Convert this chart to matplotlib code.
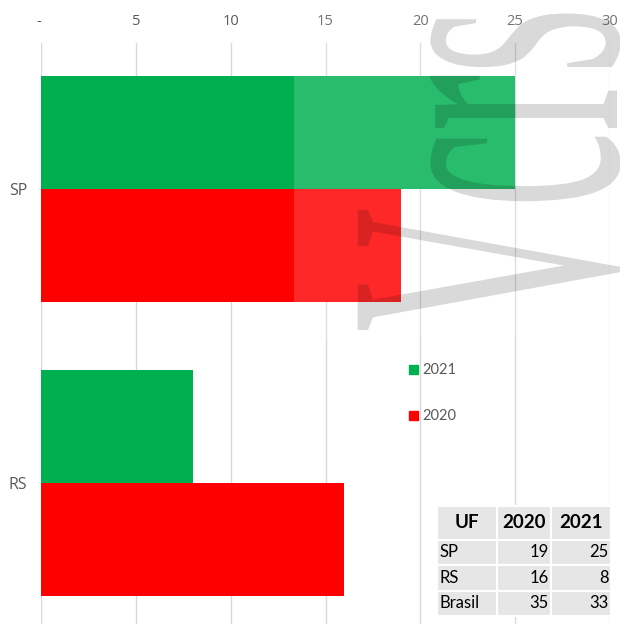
import numpy as np
import matplotlib
matplotlib.use("Agg")
import matplotlib.pyplot as plt
from matplotlib.patches import Patch, PathPatch, Rectangle
from matplotlib.textpath import TextPath
from matplotlib.font_manager import FontProperties
from matplotlib.transforms import Affine2D
from matplotlib.ticker import FuncFormatter

# dados do grafico
ufs = ['SP', 'RS']
vals_2021 = [25, 8]
vals_2020 = [19, 16]

# dados da tabela
tab_header = ['UF', '2020', '2021']
tab_uf = ['SP', 'RS', 'Brasil']
tab_2020 = [19, 16, 35]
tab_2021 = [25, 8, 33]

green = '#00B050'
red = '#FF0000'
gray_txt = '#595959'

W, H = 620, 624
fig = plt.figure(figsize=(W / 100, H / 100), dpi=100)

def px_box(x0, y0, x1, y1):
    # caixa em pixels (y para baixo) -> fracao da figura
    return [x0 / W, 1 - y1 / H, (x1 - x0) / W, (y1 - y0) / H]

ax = fig.add_axes(px_box(41, 43, 610, 624))

pos = np.arange(len(ufs))[::-1]
h = 0.384
ax.barh(pos + h / 2, vals_2021, height=h, color=green, label='2021', zorder=2)
ax.barh(pos - h / 2, vals_2020, height=h, color=red, label='2020', zorder=2)

ax.set_xlim(0, 30)
ax.set_ylim(-0.4796, 1.4966)
ax.set_xticks(np.arange(0, 31, 5))
ax.xaxis.set_major_formatter(FuncFormatter(lambda v, p: '- ' if v == 0 else f'{v:g}'))
ax.xaxis.tick_top()
ax.set_yticks(pos, ufs)
ax.tick_params(axis='x', length=0, pad=10, labelsize=10.5, labelcolor=gray_txt)
ax.tick_params(axis='y', length=0, pad=10, labelsize=11.5, labelcolor=gray_txt)
for lab in ax.get_xticklabels() + ax.get_yticklabels():
    lab.set_family('Open Sans')
ax.grid(axis='x', color='#D9D9D9', linewidth=1)
ax.set_axisbelow(True)
for s in ax.spines.values():
    s.set_visible(False)

# legenda
leg = fig.legend(handles=[Patch(color=green, label='2021'), Patch(color=red, label='2020')],
                 loc='upper left', bbox_to_anchor=(402 / W, 1 - 356 / H), frameon=False,
                 borderpad=0, handlelength=0.6, handleheight=0.6, handletextpad=0.3,
                 labelspacing=2.2, prop=FontProperties(family='Lato', size=10.5))
for t in leg.get_texts():
    t.set_color(gray_txt)

# tabela
tax = fig.add_axes(px_box(437, 506, 611, 616))
tax.axis('off')
cells = [[u, str(a), str(b)] for u, a, b in zip(tab_uf, tab_2020, tab_2021)]
tbl = tax.table(cellText=cells, colLabels=tab_header, bbox=[0, 0, 1, 1],
                colWidths=[60, 53, 60])
tbl.auto_set_font_size(False)
for (r, c), cell in tbl.get_celld().items():
    cell.set_facecolor('#E7E6E6')
    cell.set_edgecolor('white')
    cell.set_linewidth(1.5)
    cell.PAD = 0.04
    txt = cell.get_text()
    txt.set_family('Lato')
    if r == 0:
        cell.set_height(33)
        txt.set_fontsize(13.5)
        txt.set_fontweight('bold')
        txt.set_horizontalalignment('center')
    else:
        cell.set_height(25)
        txt.set_fontsize(12)
        txt.set_horizontalalignment('left' if c == 0 else 'right')

# marca d'agua
fig.add_artist(Rectangle((294 / W, 1 - 340 / H), (W - 294) / W, 340 / H,
                         transform=fig.transFigure, facecolor='white', alpha=0.16,
                         edgecolor='none', zorder=9))
tp = TextPath((0, 0), 'Vcrs', size=1, prop=FontProperties(family='Liberation Serif'))
tr = (Affine2D().scale(172, 396).rotate_deg(90).translate(617, H - 332)
      .scale(1 / W, 1 / H))
fig.add_artist(PathPatch(tr.transform_path(tp), transform=fig.transFigure,
                         facecolor='black', alpha=0.15, edgecolor='none', zorder=10))

fig.savefig('out.png', dpi=100)
